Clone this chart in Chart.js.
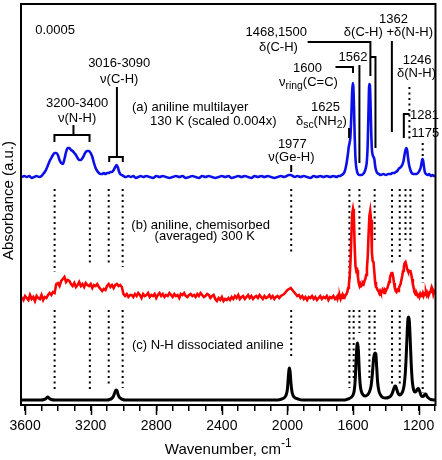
<!DOCTYPE html>
<html>
<head>
<meta charset="utf-8">
<script src="https://cdn.jsdelivr.net/npm/chart.js@4.4.1/dist/chart.umd.min.js"></script>
<style>
  html, body { margin: 0; padding: 0; background: #fff; }
  canvas { display: block; }
</style>
</head>
<body>
<canvas id="chart" width="442" height="460"></canvas>
<script>
// [wavenumber cm-1, absorbance above the trace's own baseline (a.u.)]
const spectrumA = [ // (a) aniline multilayer 130 K, scaled
  [3620,0],[3605,1],[3590,0],[3575,1],[3560,-1],[3545,0],[3530,1],[3515,0],[3500,1],[3490,3],
  [3480,5],[3470,8],[3460,12],[3450,16],[3440,19],[3430,22],[3420,24],[3410,24],[3400,22],[3390,17],
  [3380,14],[3370,13],[3360,18],[3350,25],[3340,29],[3330,29],[3320,27],[3310,26],[3300,24],[3290,22],
  [3280,19],[3270,17],[3260,17],[3250,19],[3240,22],[3230,25],[3220,26],[3210,26],[3200,24],[3190,20],
  [3180,14],[3170,9],[3160,6],[3150,4],[3140,3],[3130,3],[3120,4],[3110,3],[3100,4],[3090,4],
  [3080,5],[3070,5],[3060,7],[3050,10],[3042,12],[3035,10],[3028,6],[3020,3],[3010,2],[3000,1],
  [2985,0],[2970,1],[2955,0],[2940,1],[2925,-1],[2910,0],[2895,1],[2880,0],[2860,1],[2840,0],
  [2820,-1],[2800,1],[2780,0],[2760,1],[2740,0],[2720,-1],[2700,0],[2680,1],[2660,0],[2640,1],
  [2620,-1],[2600,0],[2580,1],[2560,0],[2540,-1],[2520,1],[2500,0],[2480,1],[2460,0],[2440,-1],
  [2420,0],[2400,1],[2380,0],[2360,1],[2340,-1],[2320,0],[2300,1],[2280,0],[2260,1],[2240,0],
  [2220,-1],[2200,1],[2180,0],[2160,1],[2140,0],[2120,1],[2100,0],[2080,-1],[2060,0],[2040,1],
  [2020,0],[2005,1],[1992,2],[1980,2],[1968,1],[1955,0],[1940,1],[1920,0],[1900,1],[1880,0],
  [1860,-1],[1840,1],[1820,0],[1800,1],[1780,0],[1760,1],[1740,0],[1720,1],[1700,0],[1690,1],
  [1680,1],[1670,2],[1660,3],[1652,5],[1645,9],[1638,15],[1632,22],[1626,30],[1621,34],[1616,40],
  [1611,58],[1606,82],[1602,94],[1598,90],[1594,70],[1590,42],[1586,22],[1582,12],[1576,6],[1570,3],
  [1562,2],[1554,2],[1546,2],[1538,3],[1530,5],[1522,9],[1515,17],[1510,35],[1505,70],[1501,93],
  [1497,92],[1493,72],[1489,45],[1485,28],[1480,22],[1475,20],[1470,18],[1465,11],[1460,7],[1452,4],
  [1442,3],[1430,2],[1415,3],[1400,2],[1385,3],[1370,3],[1360,4],[1350,4],[1340,5],[1330,6],
  [1322,8],[1316,9],[1308,10],[1300,12],[1292,16],[1286,22],[1280,27],[1275,29],[1270,27],[1265,20],
  [1258,12],[1250,7],[1242,4],[1232,3],[1222,3],[1212,3],[1204,4],[1196,6],[1188,9],[1182,14],
  [1177,18],[1173,17],[1168,11],[1162,5],[1155,3],[1145,2],[1135,3],[1125,1],[1115,2],[1105,1],
  [1100,2]
];

const spectrumB = [ // (b) aniline chemisorbed, 300 K, averaged
  [3620,1],[3610,-2],[3600,2],[3590,0],[3580,-2],[3570,3],[3560,-1],[3550,1],[3540,-3],[3530,2],
  [3520,0],[3510,-1],[3500,3],[3490,-2],[3480,1],[3470,0],[3460,3],[3450,5],[3440,3],[3430,6],
  [3420,5],[3410,14],[3400,15],[3390,12],[3380,17],[3370,19],[3360,21],[3350,16],[3340,18],[3330,17],
  [3320,14],[3310,12],[3300,15],[3290,11],[3280,13],[3270,16],[3260,12],[3250,14],[3240,11],[3230,15],
  [3220,13],[3210,12],[3200,14],[3190,10],[3180,13],[3170,12],[3160,14],[3150,11],[3140,9],[3130,7],
  [3120,9],[3110,8],[3100,12],[3090,14],[3080,11],[3070,13],[3060,10],[3050,13],[3040,14],[3030,12],
  [3020,13],[3010,11],[3000,4],[2990,2],[2980,4],[2970,1],[2960,3],[2950,3],[2940,1],[2930,4],
  [2920,2],[2910,5],[2900,3],[2890,0],[2880,4],[2870,2],[2860,3],[2850,5],[2840,1],[2830,3],
  [2820,2],[2810,4],[2800,0],[2790,3],[2780,5],[2770,2],[2760,4],[2750,1],[2740,3],[2730,2],
  [2720,5],[2710,3],[2700,1],[2690,4],[2680,2],[2670,3],[2660,0],[2650,4],[2640,3],[2630,5],
  [2620,2],[2610,1],[2600,3],[2590,4],[2580,2],[2570,3],[2560,1],[2550,4],[2540,2],[2530,5],
  [2520,3],[2510,1],[2500,2],[2490,4],[2480,3],[2470,0],[2460,2],[2450,3],[2440,-1],[2430,-3],
  [2420,0],[2410,-2],[2400,1],[2390,-3],[2380,-1],[2370,-2],[2360,0],[2350,-2],[2340,1],[2330,-1],
  [2320,2],[2310,0],[2300,3],[2290,-1],[2280,1],[2270,2],[2260,-1],[2250,1],[2240,3],[2230,0],
  [2220,2],[2210,-1],[2200,1],[2190,2],[2180,0],[2170,3],[2160,1],[2150,-1],[2140,2],[2130,0],
  [2120,1],[2110,3],[2100,0],[2090,2],[2080,-1],[2070,1],[2060,2],[2050,0],[2040,2],[2030,3],
  [2020,4],[2010,6],[2000,8],[1990,9],[1980,10],[1970,8],[1960,6],[1950,4],[1940,2],[1930,3],
  [1920,0],[1910,2],[1900,-1],[1890,1],[1880,-2],[1870,1],[1860,0],[1850,2],[1840,-1],[1830,1],
  [1820,-2],[1810,0],[1800,2],[1790,-1],[1780,1],[1770,0],[1760,2],[1750,-2],[1740,1],[1730,0],
  [1720,2],[1710,-1],[1700,1],[1695,-1],[1690,2],[1685,0],[1680,2],[1675,-1],[1670,1],[1665,3],
  [1660,0],[1655,2],[1650,1],[1645,3],[1640,4],[1635,6],[1630,10],[1625,14],[1620,22],[1615,38],
  [1610,62],[1605,84],[1600,89],[1595,84],[1590,52],[1585,32],[1580,27],[1575,28],[1570,21],[1565,15],
  [1560,12],[1555,14],[1550,12],[1545,13],[1540,15],[1535,14],[1530,17],[1525,19],[1520,23],[1515,30],
  [1510,42],[1505,64],[1500,82],[1495,87],[1490,78],[1485,46],[1480,37],[1475,36],[1470,26],[1465,16],
  [1460,11],[1455,10],[1450,8],[1445,7],[1440,5],[1435,7],[1430,5],[1425,6],[1420,8],[1415,6],
  [1410,5],[1405,8],[1400,7],[1395,9],[1390,10],[1385,13],[1380,16],[1375,20],[1370,23],[1365,25],
  [1360,25],[1355,21],[1350,15],[1345,10],[1340,7],[1335,6],[1330,8],[1325,7],[1320,10],[1315,12],
  [1310,14],[1305,18],[1300,22],[1295,27],[1290,31],[1285,35],[1280,36],[1275,33],[1270,29],[1265,27],
  [1260,26],[1255,27],[1250,27],[1245,24],[1240,19],[1235,14],[1230,10],[1225,6],[1220,4],[1215,3],
  [1210,4],[1205,2],[1200,3],[1195,1],[1190,4],[1185,2],[1180,3],[1175,5],[1170,2],[1165,4],
  [1160,3],[1155,6],[1150,3],[1145,5],[1140,2],[1135,4],[1130,6],[1125,8],[1120,11],[1115,9],
  [1110,4],[1105,7],[1100,6]
];

const spectrumC = [ // (c) N-H dissociated aniline (calculated)
  [3620,0],[3500,0],[3485,0.5],[3472,1.5],[3462,3],[3452,1.5],[3440,0.5],[3420,0],
  [3100,0],[3085,0.5],[3072,1.5],[3062,3.5],[3054,7],[3046,10],[3040,9.5],[3034,6],[3026,3],[3016,1.5],
  [3005,0.5],[2990,0],[2060,0],[2035,1],[2018,2.5],[2008,5],[2000,11],[1995,22],[1990,31],[1987,32],
  [1983,27],[1978,16],[1972,8],[1964,4],[1952,2],[1935,1],[1910,0],[1650,0],[1630,1],[1612,2.5],
  [1600,5],[1592,10],[1586,22],[1580,44],[1575,56],[1571,57],[1567,49],[1562,30],[1556,15],[1548,8],
  [1538,5],[1525,4],[1512,5],[1500,8],[1490,14],[1482,26],[1474,42],[1466,47],[1461,46],[1456,34],
  [1450,18],[1442,9],[1432,5],[1418,2.5],[1400,2],[1385,2.5],[1370,4],[1360,7],[1352,11],[1345,14],
  [1340,14],[1334,11],[1326,7],[1316,5],[1306,6],[1296,9],[1288,15],[1281,27],[1275,46],[1269,70],
  [1264,82],[1260,83],[1256,78],[1251,60],[1245,36],[1238,18],[1230,10],[1222,8],[1214,9],[1207,11],
  [1200,11.5],[1194,9],[1186,5],[1176,3.5],[1168,4],[1161,6],[1156,6],[1150,4],[1140,2],[1125,0.5],
  [1100,0]
];

// vertical stacking of the three traces
const offsets = [228, 107, 5];
const traceColors = ['#0b10e8', '#ff0000', '#000000'];

// dotted peak markers: wavenumber, start, end
const dotUpperWn  = [3420, 3205, 3090, 3005, 1977, 1622, 1561, 1468, 1362, 1315, 1280, 1250, 1175];
const dotUpperEnd = [133, 140, 142, 138, 150, 125, 167, 165, 142, 148, 165, 152, 122];
const dotLowerWn  = [3420, 3205, 3090, 3005, 1977, 1622, 1596, 1561, 1500, 1468, 1362, 1315, 1175];
const dotLowerEnd = [15, 15, 20, 17, 48, 17, 25, 72, 25, 55, 18, 20, 12];
const dotUpperTop = 216;
const dotLowerTop = 95;

const xTicksMajor = [3600, 3200, 2800, 2400, 2000, 1600, 1200];

// leader lines for peak assignments
const leaderLines = [
  [[3421,263],[3421,270],[3207,270],[3207,263]],
  [[3305,270],[3305,280]],
  [[3087,243],[3087,248],[3004,248],[3004,243]],
  [[3040,248],[3040,318]],
  [[1977,233],[1977,240]],
  [[1624,267],[1624,277]],
  [[1707,338],[1600,338],[1600,332]],
  [[1561,340],[1561,242]],
  [[1877,363],[1494,363],[1494,329]],
  [[1494,348],[1463,348],[1463,257]],
  [[1363,364],[1363,273]],
  [[1290,267],[1290,291],[1255,291]]
];
const leaderDots = [
  [[1256,318],[1256,263]],
  [[1175,262],[1175,246]]
];

// text labels: parts, wavenumber, level, alignment
const textLabels = [
  [[['0.0005']], 3417, 375, 'center'],
  [[['3200-3400']], 3283, 302, 'center'],
  [[['\u03bd(N-H)']], 3283, 287, 'center'],
  [[['3016-3090']], 3026, 342, 'center'],
  [[['\u03bd(C-H)']], 3026, 326, 'center'],
  [[['(a) aniline multilayer']], 2593, 298, 'center'],
  [[['130 K (scaled 0.004x)']], 2452, 284, 'center'],
  [[['1977']], 1970, 261, 'center'],
  [[['\u03bd(Ge-H)']], 1976, 248, 'center'],
  [[['1625']], 1768, 298, 'center'],
  [[['\u03b4'], ['sc', 'sub'], ['(NH'], ['2', 'sub'], [')']], 1793, 284, 'center'],
  [[['1600']], 1878, 337, 'center'],
  [[['\u03bd'], ['ring', 'sub'], ['(C=C)']], 1872, 323, 'center'],
  [[['1562']], 1600, 348, 'center'],
  [[['1468,1500']], 2068, 373, 'center'],
  [[['\u03b4(C-H)']], 2055, 358, 'center'],
  [[['1362']], 1353, 386, 'center'],
  [[['\u03b4(C-H) +\u03b4(N-H)']], 1384, 373, 'center'],
  [[['1246']], 1209, 345, 'center'],
  [[['\u03b4(N-H)']], 1213, 332, 'center'],
  [[['1281']], 1252, 290, 'left'],
  [[['1175']], 1245, 272, 'left'],
  [[['(b) aniline, chemisorbed']], 2529, 180, 'center'],
  [[['(averaged) 300 K']], 2504, 169, 'center'],
  [[['(c) N-H dissociated aniline']], 2486, 60, 'center']
];

const FONT = '"Liberation Sans", Arial, sans-serif';

function drawRich(ctx, parts, x, y, align, size) {
  const sizeOf = p => (p[1] ? size * 0.8 : size);
  let w = 0;
  parts.forEach(p => { ctx.font = sizeOf(p) + 'px ' + FONT; w += ctx.measureText(p[0]).width; });
  let cx = align === 'center' ? x - w / 2 : align === 'right' ? x - w : x;
  ctx.textAlign = 'left';
  ctx.textBaseline = 'middle';
  parts.forEach(p => {
    ctx.font = sizeOf(p) + 'px ' + FONT;
    const dy = p[1] === 'sub' ? size * 0.32 : p[1] === 'sup' ? -size * 0.4 : 0;
    ctx.fillText(p[0], cx, y + dy);
    cx += ctx.measureText(p[0]).width;
  });
}

const annotate = {
  id: 'annotate',
  afterDraw(chart) {
    const { ctx, chartArea: a, scales: { x, y } } = chart;
    ctx.save();
    ctx.strokeStyle = '#000';
    ctx.fillStyle = '#000';

    ctx.lineWidth = 2;
    ctx.strokeRect(a.left, a.top, a.right - a.left, a.bottom - a.top);

    // longer marks at labelled ticks
    ctx.lineWidth = 1.5;
    xTicksMajor.forEach(v => {
      const px = Math.round(x.getPixelForValue(v)) + 0.5;
      ctx.beginPath();
      ctx.moveTo(px, a.bottom);
      ctx.lineTo(px, a.bottom + 10);
      ctx.stroke();
    });

    ctx.lineWidth = 2;
    leaderLines.forEach(seg => {
      ctx.beginPath();
      seg.forEach(([w, v], i) => {
        const px = x.getPixelForValue(w), py = y.getPixelForValue(v);
        i ? ctx.lineTo(px, py) : ctx.moveTo(px, py);
      });
      ctx.stroke();
    });
    ctx.setLineDash([2, 3.5]);
    leaderDots.forEach(seg => {
      ctx.beginPath();
      ctx.moveTo(x.getPixelForValue(seg[0][0]), y.getPixelForValue(seg[0][1]));
      ctx.lineTo(x.getPixelForValue(seg[1][0]), y.getPixelForValue(seg[1][1]));
      ctx.stroke();
    });
    ctx.setLineDash([]);

    textLabels.forEach(([parts, wn, v, align]) => {
      drawRich(ctx, parts, x.getPixelForValue(wn), y.getPixelForValue(v), align, 13);
    });

    drawRich(ctx, [['Wavenumber, cm'], ['-1', 'sup']], (a.left + a.right) / 2, 450, 'center', 15);

    ctx.save();
    ctx.translate(9, (a.top + a.bottom) / 2 - 4);
    ctx.rotate(-Math.PI / 2);
    drawRich(ctx, [['Absorbance (a.u.)']], 0, 0, 'center', 15);
    ctx.restore();

    ctx.restore();
  }
};

const spectra = [spectrumA, spectrumB, spectrumC].map((s, i) => ({
  data: s.map(([w, v]) => ({ x: w, y: v + offsets[i] })),
  borderColor: traceColors[i],
  borderWidth: i === 2 ? 3 : 2.6,
  pointRadius: 0,
  cubicInterpolationMode: i === 1 ? 'default' : 'monotone',
  tension: 0
}));

const dotted = (wn, v0, v1) => ({
  data: [{ x: wn, y: v0 }, { x: wn, y: v1 }],
  borderColor: '#000',
  borderWidth: 2,
  borderDash: [2, 3.5],
  pointRadius: 0
});

const markers = [
  ...dotUpperWn.map((w, i) => dotted(w, dotUpperTop, dotUpperEnd[i])),
  ...dotLowerWn.map((w, i) => dotted(w, dotLowerTop, dotLowerEnd[i]))
];

new Chart(document.getElementById('chart'), {
  type: 'line',
  data: { datasets: [...spectra, ...markers] },
  options: {
    responsive: false,
    animation: false,
    devicePixelRatio: 1,
    layout: { padding: { left: 21, right: 6, top: 4, bottom: 0 } },
    plugins: { legend: { display: false }, tooltip: { enabled: false } },
    scales: {
      x: {
        type: 'linear',
        reverse: true,
        min: 1097,
        max: 3625,
        afterBuildTicks: s => {
          s.ticks = s.ticks.filter(t => t.value >= 1100 && t.value <= 3600 && t.value % 100 === 0);
        },
        afterFit: s => { s.height = 55; },
        border: { display: false },
        grid: { drawOnChartArea: false, drawTicks: true, tickLength: 6, color: '#000', lineWidth: 1.5 },
        ticks: {
          stepSize: 100,
          includeBounds: false,
          autoSkip: false,
          maxRotation: 0,
          padding: 7,
          color: '#000',
          font: { family: FONT, size: 14 },
          callback: v => (v % 400 === 0 ? String(v) : '')
        }
      },
      y: { display: false, min: 0, max: 401 }
    }
  },
  plugins: [annotate]
});
</script>
</body>
</html>
